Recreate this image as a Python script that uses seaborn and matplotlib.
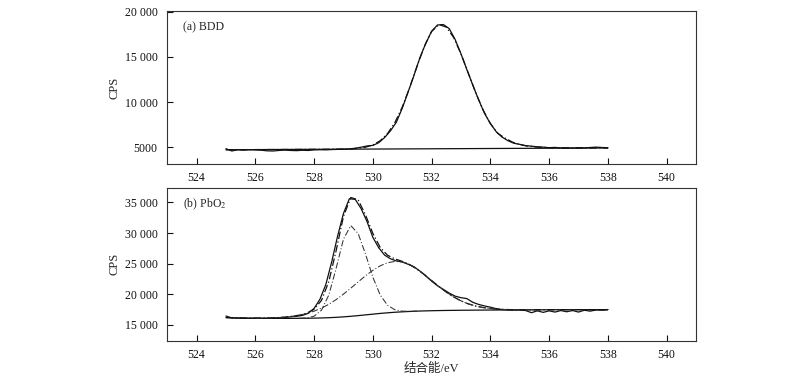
import numpy as np
import matplotlib
matplotlib.use("Agg")
import matplotlib.pyplot as plt
import seaborn as sns

# binding energy grids (eV), raw spectra every 0.2 eV, fitted curves every 0.25 eV
x_raw = np.linspace(525, 538, 66)
x_fit = np.linspace(525, 538, 53)

# (a) BDD, O 1s
bdd_raw = [4820, 4560, 4700, 4660, 4700, 4690, 4650, 4580, 4560, 4620,
           4660, 4620, 4600, 4640, 4620, 4680, 4700, 4690, 4720, 4740,
           4770, 4790, 4870, 4980, 5120, 5180, 5480, 6050, 6800, 7750,
           9300, 11100, 12950, 14900, 16500, 17850, 18550, 18600, 18150, 16950,
           15350, 13600, 11900, 10250, 8750, 7600, 6700, 6100, 5700, 5420,
           5300, 5150, 5100, 5020, 4990, 4930, 4960, 4900, 4920, 4880,
           4930, 4900, 4950, 4990, 4950, 4920]
bdd_fit = [4700, 4704, 4708, 4712, 4715, 4719, 4723, 4727, 4731, 4735, 4739, 4742, 4746, 4750, 4754, 4760,
           4768, 4800, 4857, 4982, 5232, 5700, 6493, 7719, 9432, 11576, 13930, 16154, 17828, 18592, 18316, 17159,
           15343, 13197, 11041, 9135, 7619, 6523, 5996, 5550, 5274, 5118, 5022, 4966, 4930, 4903, 4885, 4885,
           4887, 4890, 4893, 4897, 4900]
bdd_bg_x = [525, 538]
bdd_bg = [4700, 4900]

# (b) PbO2, O 1s
pbo2_raw = [16450, 16150, 16120, 16100, 16080, 16100, 16080, 16090, 16130, 16160,
            16200, 16330, 16400, 16550, 16900, 17700, 19200, 21600, 25300, 29500,
            33200, 35600, 35500, 34000, 31900, 29300, 27600, 26400, 25800, 25450,
            25300, 24900, 24500, 23800, 23000, 22150, 21400, 20800, 20200, 19700,
            19450, 19300, 18700, 18350, 18100, 17900, 17650, 17500, 17450, 17430,
            17450, 17350, 17000, 17300, 17050, 17300, 17100, 17350, 17150, 17350,
            17100, 17400, 17250, 17450, 17400, 17500]
pbo2_fit = [16200, 16152, 16126, 16110, 16112, 16120, 16147, 16193, 16275, 16406, 16595, 16924, 17557, 18995, 22063, 27123,
            32717, 35805, 35422, 32957, 29956, 27655, 26374, 25779, 25381, 24863, 24131, 23238, 22250, 21266, 20354, 19568,
            18930, 18439, 18082, 17838, 17678, 17580, 17523, 17492, 17478, 17463, 17468, 17472, 17476, 17480, 17484, 17487,
            17490, 17493, 17495, 17498, 17500]
pbo2_bg = [16200, 16150, 16120, 16100, 16090, 16080, 16075, 16070, 16070, 16075, 16080, 16090, 16110, 16140, 16180, 16240,
           16320, 16410, 16520, 16640, 16760, 16880, 16980, 17070, 17140, 17200, 17250, 17290, 17320, 17345, 17365, 17380,
           17395, 17405, 17415, 17425, 17432, 17440, 17446, 17452, 17458, 17463, 17468, 17472, 17476, 17480, 17484, 17487,
           17490, 17493, 17495, 17498, 17500]
# lattice oxygen component
comp1_x = np.linspace(527.5, 531.5, 17)
comp1 = [16080, 16148, 16422, 17393, 19872, 24226, 29007, 31215, 29919, 26574, 22801, 19886, 18207, 17479, 17252, 17225, 17250]
# adsorbed oxygen component
comp2_x = np.linspace(526, 535.5, 39)
comp2 = [16112, 16120, 16147, 16193, 16275, 16406, 16595, 16866, 17245, 17742, 18371, 19137,
         20030, 21000, 22023, 23023, 23915, 24649, 25147, 25370, 25269, 24837, 24131, 23238,
         22250, 21266, 20354, 19568, 18930, 18439, 18082, 17838, 17678, 17580, 17523, 17492,
         17478, 17463, 17468]

x_ticks = [524, 526, 528, 530, 532, 534, 536, 538, 540]
top_yticks = [5000, 10000, 15000, 20000]
top_ylabels = ['5000', '10 000', '15 000', '20 000']
bot_yticks = [15000, 20000, 25000, 30000, 35000]
bot_ylabels = ['15 000', '20 000', '25 000', '30 000', '35 000']

sns.set_theme(style="ticks")
plt.rcParams['font.family'] = ['Liberation Serif', 'Noto Sans CJK SC']
plt.rcParams['mathtext.fontset'] = 'stix'

fig = plt.figure(figsize=(8, 3.8), dpi=100)
ax1 = fig.add_axes([0.209, 0.568, 0.661, 0.403])
ax2 = fig.add_axes([0.209, 0.103, 0.661, 0.403])

dashdot = (0, (6, 2, 1, 2))

sns.lineplot(x=x_raw, y=bdd_raw, ax=ax1, color='#111111', lw=0.9, estimator=None, sort=False)
sns.lineplot(x=x_fit, y=bdd_fit, ax=ax1, color='#111111', lw=0.9, linestyle=dashdot, estimator=None, sort=False)
sns.lineplot(x=bdd_bg_x, y=bdd_bg, ax=ax1, color='#111111', lw=0.9, estimator=None, sort=False)

sns.lineplot(x=x_raw, y=pbo2_raw, ax=ax2, color='#111111', lw=0.9, estimator=None, sort=False)
sns.lineplot(x=x_fit, y=pbo2_fit, ax=ax2, color='#111111', lw=0.9, linestyle=dashdot, estimator=None, sort=False)
sns.lineplot(x=x_fit, y=pbo2_bg, ax=ax2, color='#111111', lw=0.9, estimator=None, sort=False)
sns.lineplot(x=comp1_x, y=comp1, ax=ax2, color='#333333', lw=0.75, linestyle=dashdot, estimator=None, sort=False)
sns.lineplot(x=comp2_x, y=comp2, ax=ax2, color='#333333', lw=0.75, linestyle=dashdot, estimator=None, sort=False)

for ax in (ax1, ax2):
    ax.set_xlim(523, 541)
    ax.set_xticks(x_ticks)
    ax.tick_params(direction='in', length=4.5, width=0.8, labelsize=8.5, colors='#111111')
    ax.tick_params(axis='y', pad=7)
    ax.tick_params(axis='x', pad=6)
    for s in ax.spines.values():
        s.set_visible(True)
        s.set_linewidth(0.8)
        s.set_color('#333333')
    ax.set_ylabel('CPS', fontsize=9, labelpad=3)

ax1.set_ylim(3100, 20100)
ax1.set_yticks(top_yticks)
ax1.set_yticklabels(top_ylabels)
ax2.set_ylim(12400, 37400)
ax2.set_yticks(bot_yticks)
ax2.set_yticklabels(bot_ylabels)

ax1.text(0.03, 0.895, '(a) BDD', transform=ax1.transAxes, fontsize=8.5, va='center')
ax2.text(0.03, 0.895, '(b) PbO$_2$', transform=ax2.transAxes, fontsize=8.5, va='center')
ax2.set_xlabel('结合能/eV', fontsize=9, labelpad=1)

fig.savefig('out.png', dpi=100)
